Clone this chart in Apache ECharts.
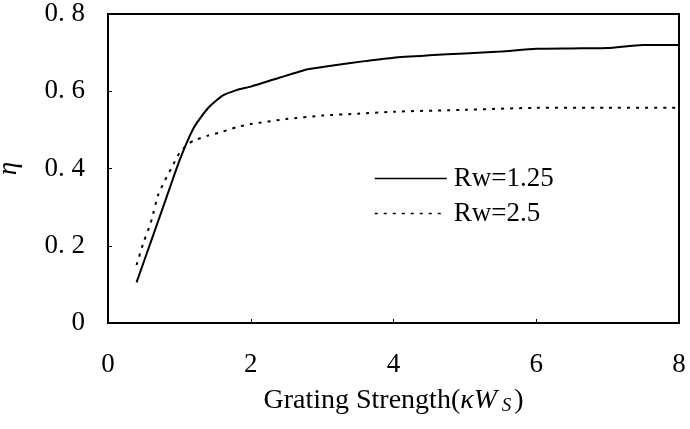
<!DOCTYPE html>
<html>
<head>
<meta charset="utf-8">
<script src="https://cdn.jsdelivr.net/npm/echarts@6/dist/echarts.min.js"></script>
<style>html,body{margin:0;padding:0;background:#fff;}#c{width:690px;height:429px;}</style>
</head>
<body>
<div id="c"></div>
<script>
const seriesNames = ['Rw=1.25', 'Rw=2.5'];
const x1 = [0.4, 0.6, 0.8, 1.0, 1.2, 1.4, 1.6, 1.8, 2.0, 2.4, 2.8, 3.2, 3.6, 4.0, 4.5, 5.0, 5.5, 6.0, 6.5, 7.0, 7.5, 8.0];
const y1 = [0.105, 0.21, 0.315, 0.42, 0.505, 0.556, 0.588, 0.603, 0.612, 0.635, 0.657, 0.668, 0.678, 0.687, 0.693, 0.698, 0.703, 0.71, 0.711, 0.712, 0.72, 0.72];
const x2 = [0.4, 0.5, 0.6, 0.7, 0.8, 0.9, 1.0, 1.1, 1.2, 1.4, 1.6, 1.8, 2.0, 2.5, 3.0, 3.5, 4.0, 5.0, 6.0, 7.0, 8.0];
const y2 = [0.15, 0.21, 0.26, 0.33, 0.37, 0.405, 0.44, 0.46, 0.472, 0.485, 0.495, 0.507, 0.515, 0.528, 0.537, 0.542, 0.547, 0.552, 0.557, 0.557, 0.557];
const xTickLabels = {0: '0', 2: '2', 4: '4', 6: '6', 8: '8'};
const yTickLabels = {0: '0', 0.2: '0. 2', 0.4: '0. 4', 0.6: '0. 6', 0.8: '0. 8'};

const FONT = 'Liberation Serif';
const chart = echarts.init(document.getElementById('c'), null, {renderer: 'canvas'});
chart.setOption({
  animation: false,
  backgroundColor: '#fff',
  grid: {left: 108, right: 11, top: 14, bottom: 106, containLabel: false, outerBoundsMode: 'none',
         show: true, borderColor: '#000', borderWidth: 2, backgroundColor: 'transparent'},
  legend: {
    orient: 'vertical', left: 369, top: 160, itemWidth: 72, itemHeight: 14, itemGap: 8,
    itemStyle: {color: 'transparent', borderColor: 'transparent', borderWidth: 0},
    lineStyle: {width: 1.5},
    textStyle: {fontFamily: FONT, fontSize: 27, color: '#000', padding: [0, 0, 0, 2]},
    data: seriesNames
  },
  xAxis: {
    type: 'value', min: 0, max: 8, interval: 2,
    name: '{n|Grating Strength(}{i|κW}{s| S}{n|)}',
    nameLocation: 'middle', nameGap: 63, nameMoveOverlap: false,
    nameTextStyle: {
      fontFamily: FONT, fontSize: 28, color: '#000',
      rich: {
        n: {fontFamily: FONT, fontSize: 28, color: '#000'},
        i: {fontFamily: FONT, fontSize: 28, fontStyle: 'italic', color: '#000'},
        s: {fontFamily: FONT, fontSize: 19, fontStyle: 'italic', color: '#000', verticalAlign: 'bottom', padding: [10, 3, 0, 0]}
      }
    },
    axisLine: {show: true, lineStyle: {color: '#000', width: 2}},
    axisTick: {show: true, inside: true, length: 4, lineStyle: {color: '#000'}},
    splitLine: {show: false},
    axisLabel: {fontFamily: FONT, fontSize: 27, color: '#000', margin: 28, formatter: v => xTickLabels[v] ?? ''}
  },
  yAxis: {
    type: 'value', min: 0, max: 0.8, interval: 0.2,
    name: 'η', nameLocation: 'middle', nameGap: 86, nameRotate: 90,
    nameTextStyle: {fontFamily: FONT, fontSize: 27, fontStyle: 'italic', color: '#000'},
    axisLine: {show: true, lineStyle: {color: '#000', width: 2}},
    axisTick: {show: true, inside: true, length: 4, lineStyle: {color: '#000'}},
    splitLine: {show: false},
    axisLabel: {fontFamily: FONT, fontSize: 27, color: '#000', margin: 23, formatter: v => yTickLabels[Math.round(v * 10) / 10] ?? ''}
  },
  series: [
    {name: seriesNames[0], type: 'line', data: x1.map((x, i) => [x, y1[i]]), symbol: 'none', smooth: 0.2,
     lineStyle: {color: '#000', width: 2, type: 'solid'}, itemStyle: {color: '#000'}},
    {name: seriesNames[1], type: 'line', data: x2.map((x, i) => [x, y2[i]]), symbol: 'none', smooth: 0.2,
     lineStyle: {color: '#000', width: 2, type: [3, 6]}, itemStyle: {color: '#000'}}
  ]
});
</script>
</body>
</html>
